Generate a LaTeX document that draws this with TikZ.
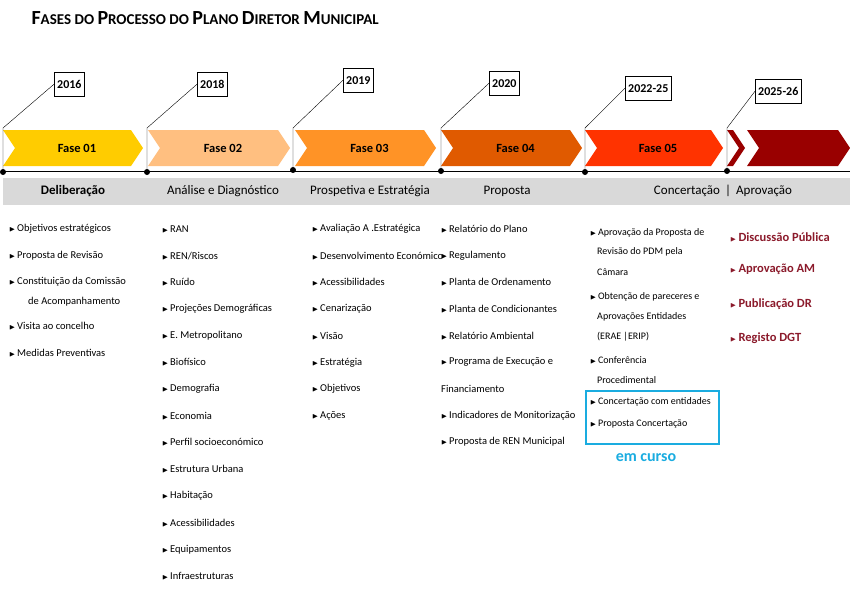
\documentclass[tikz,border=0pt]{standalone}
\usepackage{amssymb}
\usepackage{fontspec}
\setmainfont{Carlito}
\usetikzlibrary{positioning}
\definecolor{fA}{HTML}{FFCC00}
\definecolor{fB}{HTML}{FFBF80}
\definecolor{fC}{HTML}{FF9326}
\definecolor{fD}{HTML}{E05A00}
\definecolor{fE}{HTML}{FF3300}
\definecolor{fF}{HTML}{990000}
\definecolor{band}{HTML}{D9D9D9}
\definecolor{wine}{HTML}{8B1A2B}
\definecolor{curso}{HTML}{1AACE0}
\newcommand{\chev}[4]{% x0, x1, colour, name
  \fill[#3] (#1,130) -- (#2-12,130) -- (#2,148) -- (#2-12,166) -- (#1,166) -- (#1+12,148) -- cycle;
  \node[phase] (#4) at ({(#1+#2)/2+4},148) {};
}
\newcommand{\bul}{{\fontsize{7}{7}\selectfont$\blacktriangleright$}\,}
\begin{document}
\begin{tikzpicture}[x=1pt,y=-1pt,
  phase/.style={inner sep=0pt},
  year/.style={draw,fill=white,font=\bfseries\fontsize{12}{14}\selectfont,minimum height=24pt,inner sep=3pt,anchor=north west},
  dot/.style={circle,fill=black,inner sep=0pt,minimum size=6pt},
  head/.style={font=\fontsize{13}{15}\selectfont},
  item/.style={font=\fontsize{10.5}{12}\selectfont,anchor=west,inner sep=0pt},
  final/.style={font=\bfseries\fontsize{12.5}{14}\selectfont,text=wine,anchor=west,inner sep=0pt}]
\useasboundingbox (0,0) rectangle (850,600);

% title
\node[anchor=west,font=\bfseries] (title) at (28,18) {\fontsize{20}{22}\selectfont F\fontsize{15}{22}\selectfont ASES DO \fontsize{20}{22}\selectfont P\fontsize{15}{22}\selectfont ROCESSO DO \fontsize{20}{22}\selectfont P\fontsize{15}{22}\selectfont LANO \fontsize{20}{22}\selectfont D\fontsize{15}{22}\selectfont IRETOR \fontsize{20}{22}\selectfont M\fontsize{15}{22}\selectfont UNICIPAL};

% chevrons
\chev{3}{143}{fA}{f1}
\chev{148}{290}{fB}{f2}
\chev{295}{436}{fC}{f3}
\chev{441}{582}{fD}{f4}
\chev{585}{723}{fE}{f5}
\fill[fF] (727,130) -- (733,130) -- (745,148) -- (733,166) -- (727,166) -- (739,148) -- cycle;
\fill[fF] (747,130) -- (838,130) -- (850,148) -- (838,166) -- (747,166) -- (759,148) -- cycle;
\foreach \n/\t in {f1/Fase 01,f2/Fase 02,f3/Fase 03,f4/Fase 04,f5/Fase 05}
  \node[font=\bfseries\fontsize{12.5}{14}\selectfont] at (\n) {\t};

% timeline
\coordinate (tl0) at (3,171);
\coordinate (tl1) at (850,171);
\draw[thick] (tl0) -- (tl1);
\foreach \x/\y/\yr/\bx/\by [count=\i] in {3/172/2016/54/72, 147/172/2018/197/72, 293/170/2019/343/68, 441/171/2020/489/71, 585/172/2022-25/625/76, 727/171/2025-26/755/79}{
  \node[dot] (d\i) at (\x,\y) {};
  \node[year] (y\i) at (\bx,\by) {\yr};
  \draw (d\i.center) -- (\x,128) -- (y\i.west);
}

% band and headers
\fill[band] (3,178) rectangle (850,205);
\node[head,font=\bfseries\fontsize{13}{15}\selectfont] (h1) at (73,191) {Deliberação};
\node[head] (h2) at (223,191) {Análise e Diagnóstico};
\node[head] (h3) at (370,191) {Prospetiva e Estratégia};
\node[head] (h4) at (507,191) {Proposta};
\node[head] (h5) at (723,191) {Concertação \,|\, Aprovação};

% lists
\foreach \y/\t in {229/Objetivos estratégicos, 256/Proposta de Revisão, 282/Constituição da Comissão, 326/Visita ao concelho, 353/Medidas Preventivas}
  \node[item] at (9,\y) {\bul\t};
\node[item] at (28,302) {de Acompanhamento};

\foreach \t [count=\i from 0] in {RAN, REN/Riscos, Ruído, Projeções Demográficas, E. Metropolitano, Biofísico, Demografia, Economia, Perfil socioeconómico, Estrutura Urbana, Habitação, Acessibilidades, Equipamentos, Infraestruturas}
  \node[item] at (162,229+\i*26.7) {\bul\t};

\foreach \t [count=\i from 0] in {Avaliação A .Estratégica, Desenvolvimento Económico, Acessibilidades, Cenarização, Visão, Estratégia, Objetivos, Ações}
  \node[item] at (312,229+\i*26.7) {\bul\t};

\foreach \y/\t in {229/Relatório do Plano, 256/Regulamento, 282/Planta de Ordenamento, 309/Planta de Condicionantes, 336/Relatório Ambiental, 362/Programa de Execução e, 416/Indicadores de Monitorização, 442/Proposta de REN Municipal}
  \node[item] at (441,\y) {\bul\t};
\node[item] at (441,389) {Financiamento};

\foreach \y/\t in {233/Aprovação da Proposta de, 297/Obtenção de pareceres e, 360/Conferência, 402/Concertação com entidades, 424/Proposta Concertação}
  \node[item,font=\fontsize{10}{12}\selectfont] at (590,\y) {\bul\t};
\foreach \y/\t in {252/Revisão do PDM pela, 272/Câmara, 317/Aprovações Entidades, 337/(ERAE |ERIP), 380/Procedimental}
  \node[item,font=\fontsize{10}{12}\selectfont] at (597,\y) {\t};
\draw[curso,line width=2pt] (586,391) rectangle (719,444);
\node[font=\bfseries\fontsize{16}{18}\selectfont,text=curso] (em) at (646,458) {em curso};

\foreach \y/\t in {237/Discussão Pública, 269/Aprovação AM, 304/Publicação\ DR, 338/Registo DGT}
  \node[final] at (730,\y) {\bul\t};
\end{tikzpicture}
\end{document}
